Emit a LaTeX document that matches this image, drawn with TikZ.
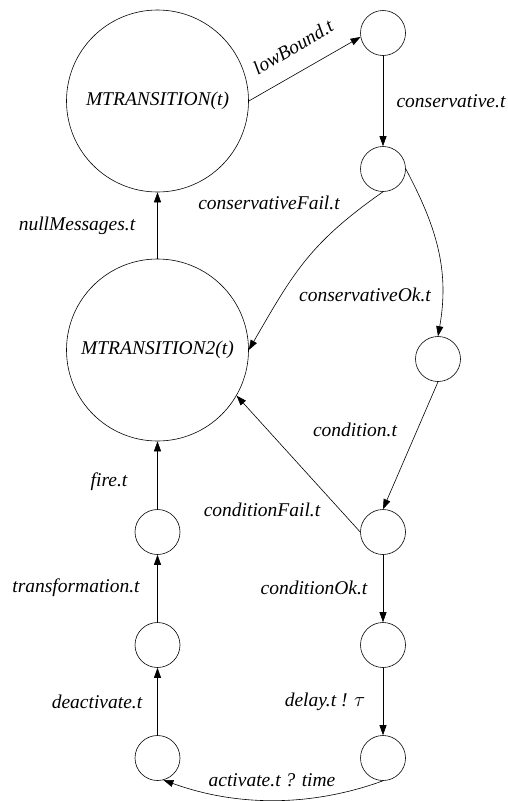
\documentclass[tikz,border=0pt]{standalone}
\usepackage{fontspec}
\setmainfont{Liberation Serif}
\usetikzlibrary{arrows.meta}
\begin{document}
\begin{tikzpicture}[x=1pt,y=-1pt,line width=0.6pt,
    >={Triangle[length=10pt,width=7pt]},
    state/.style={circle,draw,minimum size=45pt,inner sep=0pt},
    bigstate/.style={circle,draw,minimum size=182pt,inner sep=0pt,
      font=\fontsize{19.5}{23}\selectfont\itshape},
    lbl/.style={inner sep=0pt,font=\fontsize{19.5}{23}\selectfont\itshape}]
  \useasboundingbox (0,0) rectangle (507,801);
  \draw
    (157.5,101) node[bigstate] (mt) {MTRANSITION(t)}
    (157.5,350) node[bigstate] (mt2) {MTRANSITION2(t)}
    (383,33) node[state] (low) {}
    (383,169) node[state] (cons) {}
    (438,359) node[state] (ok) {}
    (383,532) node[state] (cond) {}
    (383,645) node[state] (condok) {}
    (383,758) node[state] (delay) {}
    (157.5,532) node[state] (fire) {}
    (157.5,645) node[state] (trans) {}
    (157.5,758) node[state] (deact) {};
  \begin{scope}[->]
    \draw (mt.east) to (low.190);
    \draw (low) to (cons);
    \draw (cons.south) to[out=-145,in=60,looseness=1.1] (mt2.east);
    \draw (cons.east) to[out=-62,in=80] (ok.north);
    \draw (ok.south) to (cond.north);
    \draw (cond.west) to (mt2.-30);
    \draw (cond) to (condok);
    \draw (condok) to (delay);
    \draw (delay.south) to[out=-160,in=-20,looseness=0.9] (deact.-75);
    \draw (deact) to (trans);
    \draw (trans) to (fire);
    \draw (fire) to (mt2);
    \draw (mt2) to (mt);
  \end{scope}
  \draw
    (293,47) node[lbl,rotate=30.5] (lowlbl) {lowBound.t}
    (451,101) node[lbl] (conslbl) {conservative.t}
    (269,203) node[lbl] (failconslbl) {conservativeFail.t}
    (365,295) node[lbl] (okconslbl) {conservativeOk.t}
    (355,430) node[lbl] (condlbl) {condition.t}
    (262,510) node[lbl] (failcondlbl) {conditionFail.t}
    (314,588) node[lbl] (okcondlbl) {conditionOk.t}
    (325,702) node[lbl] (delaylbl) {delay.t ! $\tau$}
    (272,780) node[lbl] (actlbl) {activate.t ? time}
    (77,226) node[lbl] (nulllbl) {nullMessages.t}
    (109,482) node[lbl] (firelbl) {fire.t}
    (76,588) node[lbl] (translbl) {transformation.t}
    (97,702) node[lbl] (deactlbl) {deactivate.t};
\end{tikzpicture}
\end{document}
